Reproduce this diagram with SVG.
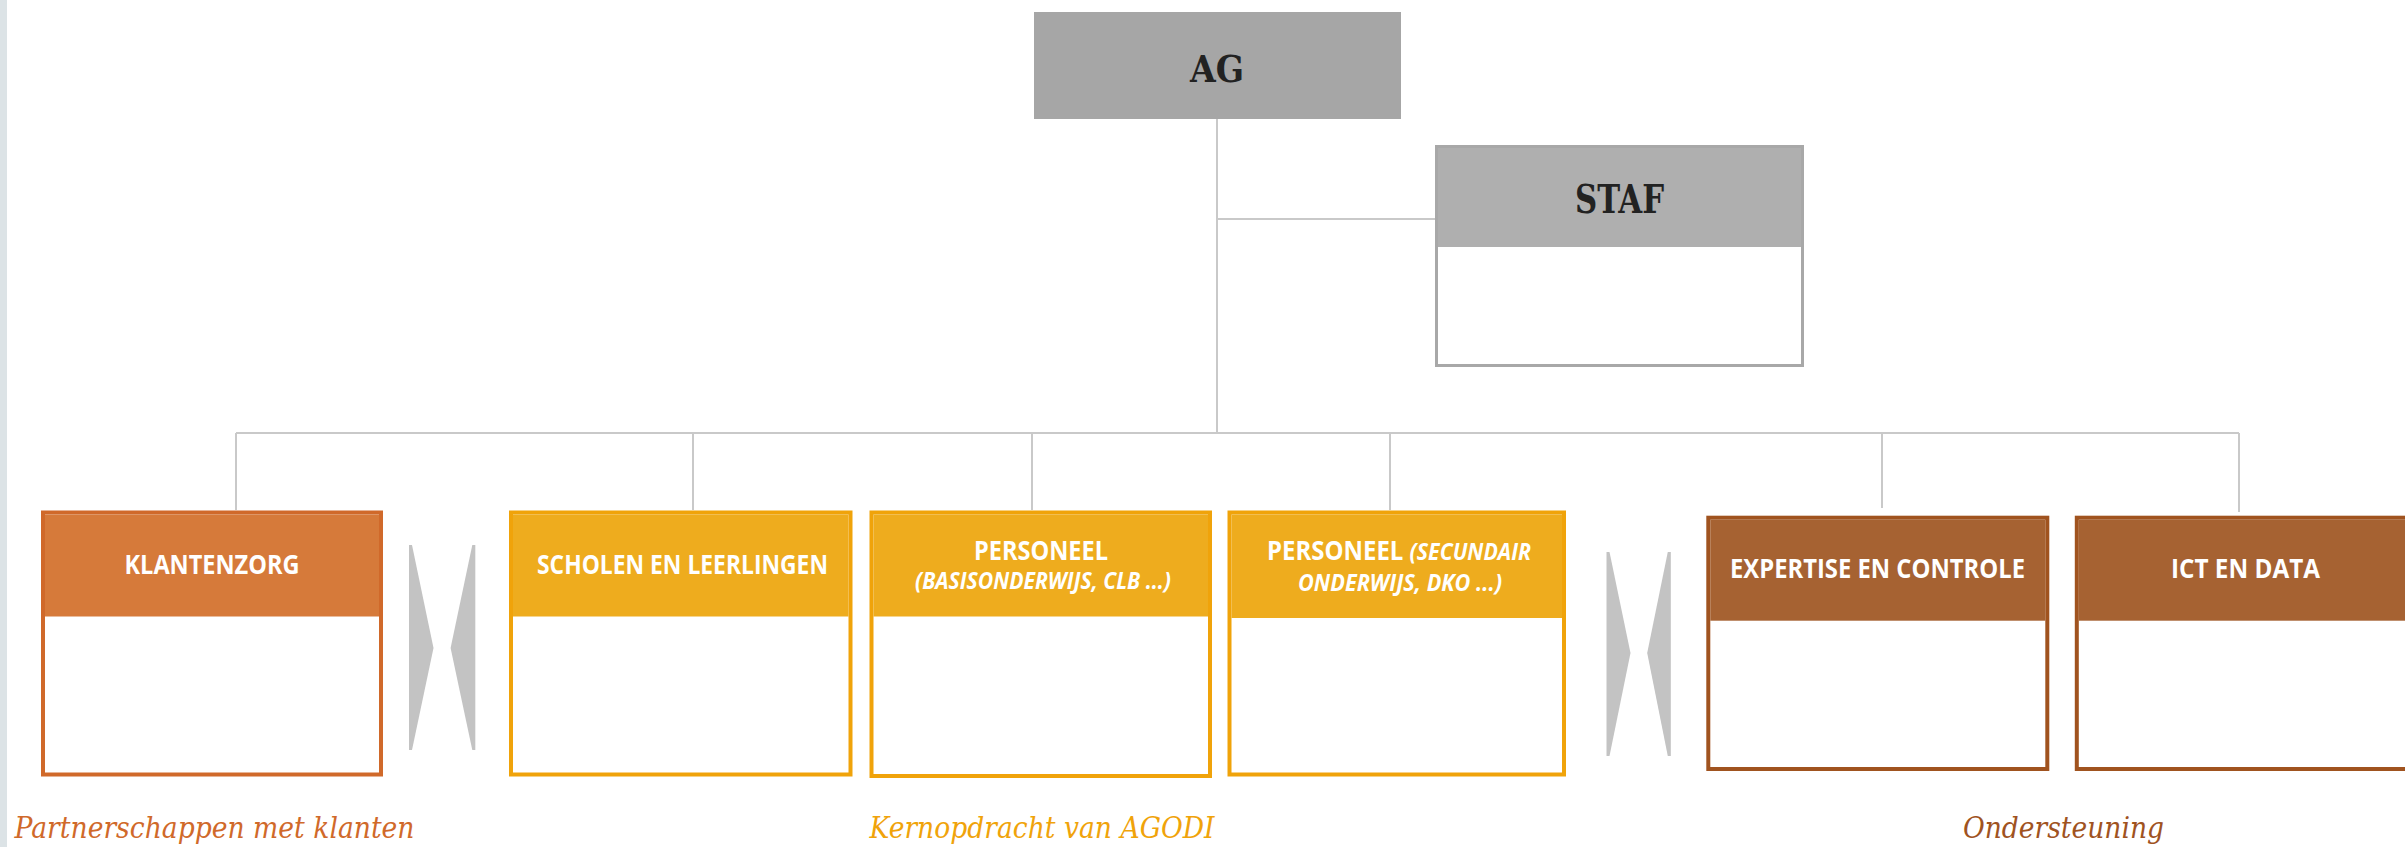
<svg xmlns="http://www.w3.org/2000/svg" width="2405" height="847" viewBox="0 0 2405 847">
<defs>
<style>
.conn{stroke:#c9c9c9;stroke-width:2;fill:none}
.chev{fill:#c3c3c3}
.ttl{font-family:"DejaVu Serif","Liberation Serif",serif;font-weight:bold;font-stretch:condensed;fill:#222;text-anchor:middle}
.hd{font-family:"Open Sans","Liberation Sans",sans-serif;font-weight:700;fill:#fff;text-anchor:middle}
.it{font-style:italic}
.cap{font-family:"DejaVu Serif","Liberation Serif",serif;font-style:italic;font-size:29px}
.o1b{fill:#fff;stroke:#d0692a;stroke-width:4}
.o1h{fill:#d67a3a}
.o2b{fill:#fff;stroke:#f0a30a;stroke-width:4}
.o2h{fill:#eeac1e}
.o3b{fill:#fff;stroke:#a0531f;stroke-width:4}
.o3h{fill:#a66232}
</style>
</defs>
<rect x="0" y="0" width="2405" height="847" fill="#fff"/>
<rect x="0" y="0" width="7" height="847" fill="#dce3e6"/>
<g id="connectors">
<path class="conn" d="M1217 118V433M1217 219H1436M236 433H2239M236 433V510M693 433V510M1032 433V510M1390 433V510M1882 433V508M2239 433V512"/>
</g>
<g id="chevrons">
<polygon class="chev" points="409,545 412,545 433.5,648 412,750 409,750"/>
<polygon class="chev" points="475.3,545 472.3,545 450.6,648 472.3,750 475.3,750"/>
<polygon class="chev" points="1606.5,552 1609.5,552 1630.5,653 1609.5,756 1606.5,756"/>
<polygon class="chev" points="1670.8,552 1667.8,552 1647.2,653 1667.8,756 1670.8,756"/>
</g>
<g id="ag">
<rect x="1034" y="12" width="367" height="107" fill="#a6a6a6"/>
<text class="ttl" x="1217" y="82" font-size="38" textLength="54" lengthAdjust="spacingAndGlyphs">AG</text>
</g>
<g id="staf">
<rect x="1436.5" y="146.5" width="366" height="219" fill="#fff" stroke="#a8a8a8" stroke-width="3"/>
<rect x="1438" y="148" width="363" height="99" fill="#afafaf"/>
<text class="ttl" x="1619.5" y="213" font-size="39" textLength="89" lengthAdjust="spacingAndGlyphs">STAF</text>
</g>
<g id="klantenzorg">
<rect class="o1b" x="43" y="512.5" width="338" height="262"/>
<rect class="o1h" x="45" y="514.5" width="334" height="102"/>
<text class="hd" x="212" y="574" font-size="26" textLength="175" lengthAdjust="spacingAndGlyphs">KLANTENZORG</text>
</g>
<g id="scholen">
<rect class="o2b" x="511" y="512.5" width="339.5" height="262"/>
<rect class="o2h" x="513" y="514.5" width="335.5" height="102"/>
<text class="hd" x="682.5" y="574" font-size="26" textLength="291" lengthAdjust="spacingAndGlyphs">SCHOLEN EN LEERLINGEN</text>
</g>
<g id="personeel-basis">
<rect class="o2b" x="871.5" y="512.5" width="338.5" height="263.5"/>
<rect class="o2h" x="873.5" y="514.5" width="334.5" height="102"/>
<text class="hd" x="1041" y="560" font-size="27" textLength="134" lengthAdjust="spacingAndGlyphs">PERSONEEL</text>
<text class="hd it" x="1043" y="589" font-size="23" textLength="256" lengthAdjust="spacingAndGlyphs">(BASISONDERWIJS, CLB ...)</text>
</g>
<g id="personeel-secundair">
<rect class="o2b" x="1229.5" y="512.5" width="334.5" height="262"/>
<rect class="o2h" x="1231.5" y="514.5" width="330.5" height="103.5"/>
<text class="hd" x="1399" y="560" font-size="27" textLength="264" lengthAdjust="spacingAndGlyphs">PERSONEEL <tspan class="it" font-size="24">(SECUNDAIR</tspan></text>
<text class="hd it" x="1400" y="591" font-size="24" textLength="204" lengthAdjust="spacingAndGlyphs">ONDERWIJS, DKO ...)</text>
</g>
<g id="expertise">
<rect class="o3b" x="1708.3" y="517.7" width="339" height="251.3"/>
<rect class="o3h" x="1710.3" y="519.7" width="335" height="101"/>
<text class="hd" x="1877.5" y="578" font-size="26" textLength="295" lengthAdjust="spacingAndGlyphs">EXPERTISE EN CONTROLE</text>
</g>
<g id="ict">
<rect class="o3b" x="2076.8" y="517.7" width="341" height="251.3"/>
<rect class="o3h" x="2078.8" y="519.7" width="337" height="101"/>
<text class="hd" x="2245.5" y="578" font-size="26" textLength="149" lengthAdjust="spacingAndGlyphs">ICT EN DATA</text>
</g>
<g id="captions">
<text class="cap" x="14.5" y="838" fill="#d0692a" textLength="400" lengthAdjust="spacingAndGlyphs">Partnerschappen met klanten</text>
<text class="cap" x="869.5" y="838" fill="#f0a30a" textLength="345" lengthAdjust="spacingAndGlyphs">Kernopdracht van AGODI</text>
<text class="cap" x="1963" y="838" fill="#a0531f" textLength="201" lengthAdjust="spacingAndGlyphs">Ondersteuning</text>
</g>
</svg>
